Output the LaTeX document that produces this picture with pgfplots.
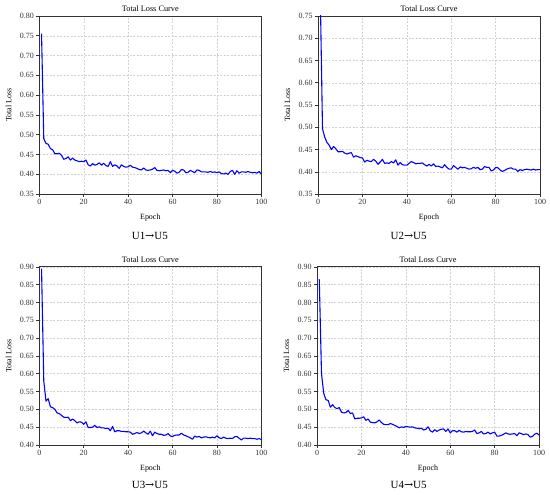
\documentclass[border=0pt]{standalone}
\usepackage{pgfplots}
\pgfplotsset{compat=1.18}
\usepackage{fontspec}
\setmainfont{Liberation Serif}
\newfontfamily\arrowfont{DejaVu Serif}
\begin{document}
\pgfplotsset{
  lossax/.style={
    scale only axis, width=223pt, height=179pt,
    xmin=0, xmax=100, xtick={0,20,40,60,80,100},
    tick align=outside, tick pos=left, major tick length=3pt,
    grid=major, grid style={dash pattern=on 2pt off 1.5pt, gray!35, line width=0.4pt},
    axis line style={gray!40!black, line width=0.6pt},
    every tick/.style={gray!40!black, line width=0.5pt},
    tick label style={font=\fontsize{8}{9}\selectfont, text=black!80},
    xticklabel style={yshift=1pt}, yticklabel style={xshift=1pt},
    /pgf/number format/assume math mode=true,
    yticklabel style={/pgf/number format/fixed, /pgf/number format/fixed zerofill, /pgf/number format/precision=2},
    scaled y ticks=false,
    title={Total Loss Curve}, title style={font=\fontsize{8.3}{9}\selectfont, yshift=-5.5pt},
    xlabel={Epoch}, ylabel={Total Loss},
    label style={font=\fontsize{8}{9}\selectfont},
    xlabel style={yshift=-2pt}, ylabel style={yshift=1.5pt},
    clip=true,
  },
  lossline/.style={blue, line width=1.1pt, line join=round, no marks},
}
\begin{tikzpicture}[x=1pt,y=1pt]
\path[use as bounding box] (0,0) rectangle (550,497);
% U1
\begin{axis}[lossax, at={(37pt,302pt)}, anchor=south west, ymin=0.35, ymax=0.80, ytick={0.35,0.40,...,0.801}]
\addplot[lossline] coordinates {
(1,0.755)(2,0.490)(3,0.478)(4,0.476)(5,0.465)(6,0.462)(7,0.452)(8,0.452)(9,0.453)(10,0.448)
(11,0.438)(12,0.440)(13,0.444)(14,0.436)(15,0.441)(16,0.436)(17,0.434)(18,0.432)(19,0.433)(20,0.432)
(21,0.436)(22,0.424)(23,0.421)(24,0.427)(25,0.423)(26,0.425)(27,0.429)(28,0.423)(29,0.428)(30,0.422)
(31,0.420)(32,0.432)(33,0.420)(34,0.424)(35,0.421)(36,0.415)(37,0.424)(38,0.420)(39,0.418)(40,0.419)
(41,0.423)(42,0.418)(43,0.417)(44,0.415)(45,0.412)(46,0.411)(47,0.416)(48,0.411)(49,0.410)(50,0.411)
(51,0.413)(52,0.417)(53,0.410)(54,0.409)(55,0.410)(56,0.411)(57,0.409)(58,0.410)(59,0.404)(60,0.410)
(61,0.408)(62,0.403)(63,0.405)(64,0.412)(65,0.411)(66,0.404)(67,0.405)(68,0.410)(69,0.407)(70,0.404)
(71,0.411)(72,0.410)(73,0.406)(74,0.406)(75,0.406)(76,0.405)(77,0.407)(78,0.405)(79,0.406)(80,0.404)
(81,0.406)(82,0.402)(83,0.401)(84,0.403)(85,0.400)(86,0.407)(87,0.410)(88,0.400)(89,0.409)(90,0.403)
(91,0.406)(92,0.406)(93,0.405)(94,0.407)(95,0.405)(96,0.404)(97,0.405)(98,0.403)(99,0.407)(100,0.401)
};
\end{axis}
% U2
\begin{axis}[lossax, at={(317pt,302pt)}, anchor=south west, ymin=0.35, ymax=0.75, ytick={0.35,0.40,...,0.751}]
\addplot[lossline] coordinates {
(1,0.800)(2,0.497)(3,0.478)(4,0.466)(5,0.460)(6,0.450)(7,0.457)(8,0.452)(9,0.445)(10,0.445)
(11,0.446)(12,0.442)(13,0.440)(14,0.442)(15,0.443)(16,0.433)(17,0.436)(18,0.434)(19,0.432)(20,0.431)
(21,0.422)(22,0.426)(23,0.424)(24,0.423)(25,0.428)(26,0.424)(27,0.417)(28,0.422)(29,0.428)(30,0.419)
(31,0.420)(32,0.419)(33,0.423)(34,0.420)(35,0.427)(36,0.415)(37,0.421)(38,0.416)(39,0.415)(40,0.415)
(41,0.419)(42,0.423)(43,0.421)(44,0.418)(45,0.419)(46,0.419)(47,0.420)(48,0.416)(49,0.413)(50,0.417)
(51,0.413)(52,0.418)(53,0.412)(54,0.413)(55,0.411)(56,0.409)(57,0.416)(58,0.410)(59,0.406)(60,0.406)
(61,0.414)(62,0.410)(63,0.406)(64,0.411)(65,0.409)(66,0.410)(67,0.408)(68,0.406)(69,0.407)(70,0.410)
(71,0.408)(72,0.410)(73,0.405)(74,0.406)(75,0.412)(76,0.410)(77,0.410)(78,0.402)(79,0.404)(80,0.410)
(81,0.409)(82,0.404)(83,0.401)(84,0.403)(85,0.406)(86,0.408)(87,0.409)(88,0.406)(89,0.406)(90,0.401)
(91,0.405)(92,0.403)(93,0.405)(94,0.406)(95,0.405)(96,0.404)(97,0.406)(98,0.404)(99,0.405)(100,0.405)
};
\end{axis}
% U3
\begin{axis}[lossax, at={(37pt,50pt)}, anchor=south west, ymin=0.40, ymax=0.90, ytick={0.40,0.45,...,0.901}]
\addplot[lossline] coordinates {
(1,0.895)(2,0.580)(3,0.523)(4,0.530)(5,0.507)(6,0.505)(7,0.500)(8,0.490)(9,0.488)(10,0.483)
(11,0.478)(12,0.477)(13,0.478)(14,0.468)(15,0.473)(16,0.468)(17,0.462)(18,0.465)(19,0.464)(20,0.458)
(21,0.465)(22,0.449)(23,0.449)(24,0.450)(25,0.455)(26,0.449)(27,0.451)(28,0.448)(29,0.448)(30,0.446)
(31,0.447)(32,0.440)(33,0.452)(34,0.437)(35,0.440)(36,0.440)(37,0.438)(38,0.438)(39,0.437)(40,0.437)
(41,0.436)(42,0.430)(43,0.432)(44,0.435)(45,0.432)(46,0.434)(47,0.439)(48,0.434)(49,0.430)(50,0.439)
(51,0.426)(52,0.436)(53,0.432)(54,0.430)(55,0.430)(56,0.427)(57,0.428)(58,0.432)(59,0.425)(60,0.424)
(61,0.427)(62,0.428)(63,0.428)(64,0.433)(65,0.428)(66,0.426)(67,0.423)(68,0.420)(69,0.416)(70,0.425)
(71,0.422)(72,0.424)(73,0.420)(74,0.422)(75,0.423)(76,0.421)(77,0.420)(78,0.422)(79,0.420)(80,0.426)
(81,0.420)(82,0.418)(83,0.422)(84,0.419)(85,0.418)(86,0.419)(87,0.418)(88,0.423)(89,0.424)(90,0.419)
(91,0.414)(92,0.419)(93,0.419)(94,0.418)(95,0.419)(96,0.418)(97,0.418)(98,0.416)(99,0.418)(100,0.415)
};
\end{axis}
% U4
\begin{axis}[lossax, at={(316pt,50pt)}, anchor=south west, ymin=0.40, ymax=0.90, ytick={0.40,0.45,...,0.901}]
\addplot[lossline] coordinates {
(1,0.865)(2,0.600)(3,0.545)(4,0.527)(5,0.525)(6,0.506)(7,0.513)(8,0.505)(9,0.502)(10,0.505)
(11,0.492)(12,0.490)(13,0.491)(14,0.497)(15,0.488)(16,0.490)(17,0.473)(18,0.475)(19,0.475)(20,0.476)
(21,0.479)(22,0.469)(23,0.473)(24,0.464)(25,0.463)(26,0.462)(27,0.465)(28,0.470)(29,0.463)(30,0.458)
(31,0.457)(32,0.457)(33,0.460)(34,0.458)(35,0.455)(36,0.452)(37,0.448)(38,0.451)(39,0.449)(40,0.452)
(41,0.451)(42,0.450)(43,0.451)(44,0.448)(45,0.447)(46,0.446)(47,0.447)(48,0.442)(49,0.444)(50,0.451)
(51,0.440)(52,0.436)(53,0.443)(54,0.438)(55,0.442)(56,0.444)(57,0.445)(58,0.438)(59,0.445)(60,0.434)
(61,0.440)(62,0.440)(63,0.436)(64,0.441)(65,0.437)(66,0.436)(67,0.438)(68,0.437)(69,0.437)(70,0.438)
(71,0.442)(72,0.432)(73,0.434)(74,0.438)(75,0.431)(76,0.432)(77,0.436)(78,0.431)(79,0.434)(80,0.436)
(81,0.425)(82,0.425)(83,0.427)(84,0.430)(85,0.434)(86,0.431)(87,0.430)(88,0.431)(89,0.432)(90,0.426)
(91,0.434)(92,0.432)(93,0.429)(94,0.431)(95,0.429)(96,0.422)(97,0.424)(98,0.430)(99,0.433)(100,0.428)
};
\end{axis}
\node[font=\fontsize{11}{13}\selectfont] at (148,260) {U1{\arrowfont →}U5};
\node[font=\fontsize{11}{13}\selectfont] at (408,260) {U2{\arrowfont →}U5};
\node[font=\fontsize{11}{13}\selectfont] at (148,10) {U3{\arrowfont →}U5};
\node[font=\fontsize{11}{13}\selectfont] at (408,10) {U4{\arrowfont →}U5};
\end{tikzpicture}
\end{document}
